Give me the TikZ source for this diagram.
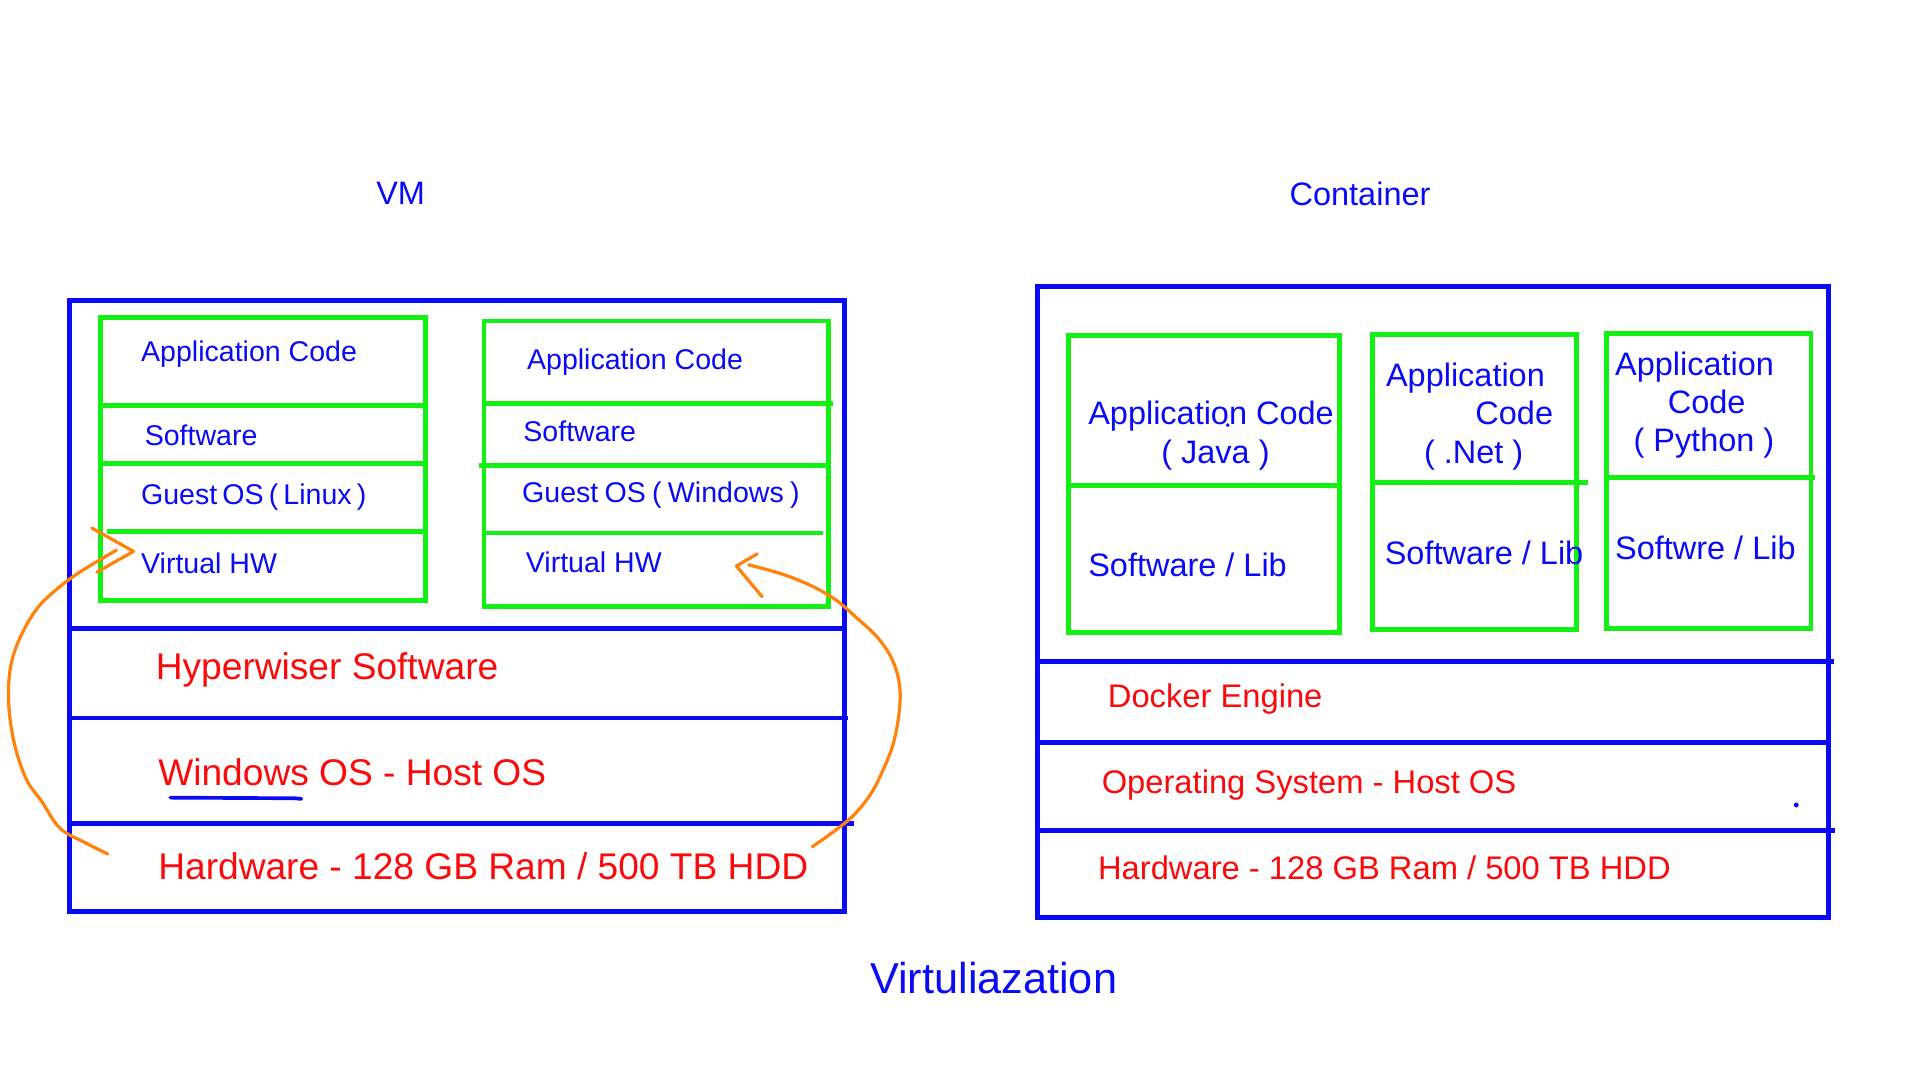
\documentclass[tikz,border=0pt]{standalone}
\usepackage{fontspec}
\setmainfont{Liberation Sans}
\definecolor{pblue}{RGB}{10,10,245}
\definecolor{pgreen}{RGB}{20,240,20}
\definecolor{pred}{RGB}{250,10,10}
\definecolor{porange}{RGB}{255,130,10}
\begin{document}
\begin{tikzpicture}[x=1pt,y=-1pt,
  box/.style={draw, line width=4pt, inner sep=0pt, outer sep=0pt, anchor=north west, line join=miter},
  bluebox/.style={box, draw=pblue},
  greenbox/.style={box, draw=pgreen},
  bline/.style={pblue, line width=4pt},
  gline/.style={pgreen, line width=4pt},
  vmtxt/.style={text=pblue, font=\fontsize{23.3}{28}\selectfont, inner sep=0pt, anchor=base west},
  cttxt/.style={text=pblue, font=\fontsize{26.5}{32}\selectfont, inner sep=0pt, anchor=base west},
  vmred/.style={text=pred, font=\fontsize{30.3}{36}\selectfont, inner sep=0pt, anchor=base west},
  ctred/.style={text=pred, font=\fontsize{26.7}{32}\selectfont, inner sep=0pt, anchor=base west},
  ttl/.style={text=pblue, font=\fontsize{26.5}{32}\selectfont, inner sep=0pt, anchor=center},
  orng/.style={porange, line width=2.6pt, line cap=round, line join=round}
]
\useasboundingbox (0,0) rectangle (1567,882);
\fill[white] (0,0) rectangle (1567,882);

% titles
\node[ttl] (tvm) at (327,158) {VM};
\node[ttl] (tct) at (1110,158) {Container};
\node[ttl, font=\fontsize{35.3}{42}\selectfont] (tvirt) at (811,798) {Virtuliazation};

% ---------------- VM side ----------------
\node[bluebox, minimum width=632pt, minimum height=499pt] (vm) at (57,245) {};
\draw[bline] (57,513) -- (689,513);
\draw[bline] (55,586) -- (692,586);
\draw[bline] (57,672) -- (697,672);

\node[greenbox, minimum width=265pt, minimum height=231pt] (g1) at (82,259) {};
\draw[gline] (82,331) -- (347,331);
\draw[gline] (82,378) -- (345,378);
\draw[gline] (87,434) -- (347,434);

\node[greenbox, minimum width=281pt, minimum height=233pt] (g2) at (395,262) {};
\draw[gline] (395,329) -- (680,329);
\draw[gline] (391,380) -- (676,380);
\draw[gline] (395,435) -- (672,435);

\node[vmtxt] (a1) at (115,295.4) {Application Code};
\node[vmtxt] (s1) at (118,363.4) {Software};
\node[vmtxt] (o1) at (115,411.4) {\spaceskip=0.18em\relax Guest OS ( Linux )};
\node[vmtxt] (h1) at (115,468.4) {Virtual HW};

\node[vmtxt] (a2) at (430,301.4) {Application Code};
\node[vmtxt] (s2) at (427,360.4) {Software};
\node[vmtxt] (o2) at (426,410.4) {\spaceskip=0.22em\relax Guest OS ( Windows )};
\node[vmtxt] (h2) at (429,467.4) {Virtual HW};

\node[vmred] (hyp) at (127,554.9) {Hyperwiser Software};
\node[vmred] (win) at (129,640.9) {Windows OS - Host OS};
\node[vmred] (hw1) at (129,717.9) {Hardware - 128 GB Ram / 500 TB HDD};
\draw[pblue, line width=3pt, line cap=round] (139,651) -- (240,651.5) -- (246,652);

% orange arrows
\coordinate (lstart) at (88,697);
\coordinate (lend) at (95,449);
\coordinate (ltip) at (109,450);
\draw[orng] plot[smooth, tension=0.6] coordinates {(lstart) (70,688) (49,676) (34,654) (22,637) (13,612) (8,585) (7,560) (10,538) (18,517) (30,497) (45,482) (65,467) (lend)};
\draw[orng] (75,431) -- (ltip) -- (79,467);

\coordinate (rstart) at (663,691);
\coordinate (rend) at (611,461);
\coordinate (rtip) at (601,462);
\draw[orng] plot[smooth, tension=0.6] coordinates {(rstart) (680,679) (696,666) (710,649) (720,630) (729,607) (734,580) (734,558) (728,538) (716,520) (700,505) (684,491) (668,481) (648,472) (630,466) (rend)};
\draw[orng] (618,452) -- (rtip) -- (622,487);

% ---------------- Container side ----------------
\node[bluebox, minimum width=645pt, minimum height=515pt] (ct) at (847,234) {};
\draw[bline] (847,540) -- (1497,540);
\draw[bline] (847,606) -- (1492,606);
\draw[bline] (847,678) -- (1498,678);

\node[greenbox, minimum width=221pt, minimum height=242pt] (c1) at (872,274) {};
\draw[gline] (872,396) -- (1093,396);
\node[greenbox, minimum width=167pt, minimum height=241pt] (c2) at (1120,273) {};
\draw[gline] (1120,394) -- (1296,394);
\node[greenbox, minimum width=167pt, minimum height=241pt] (c3) at (1311,272) {};
\draw[gline] (1311,390) -- (1481,390);

\node[cttxt] (ca1) at (888,346.5) {Application Code};
\node[cttxt, anchor=base] (cj) at (992,378.5) {( Java )};
\fill[pblue] (1002,347) circle (1.6);
\node[cttxt] (cs1) at (888,470.5) {Software / Lib};

\node[cttxt] (ca2) at (1131,315.5) {Application};
\node[cttxt] (cc2) at (1204,346.5) {Code};
\node[cttxt] (cn2) at (1162,378.5) {( .Net )};
\node[cttxt] (cs2) at (1130,460.5) {Software / Lib};

\node[cttxt] (ca3) at (1318,306.5) {Application};
\node[cttxt] (cc3) at (1361,337.5) {Code};
\node[cttxt] (cp3) at (1333,368.5) {( Python )};
\node[cttxt] (cs3) at (1318,456.5) {Softwre / Lib};

\node[ctred] (dock) at (904,577.6) {Docker Engine};
\node[ctred] (osh) at (899,647.6) {Operating System - Host OS};
\node[ctred] (hw2) at (896,717.6) {Hardware - 128 GB Ram / 500 TB HDD};
\fill[pblue] (1466,657) circle (2);
\end{tikzpicture}
\end{document}
